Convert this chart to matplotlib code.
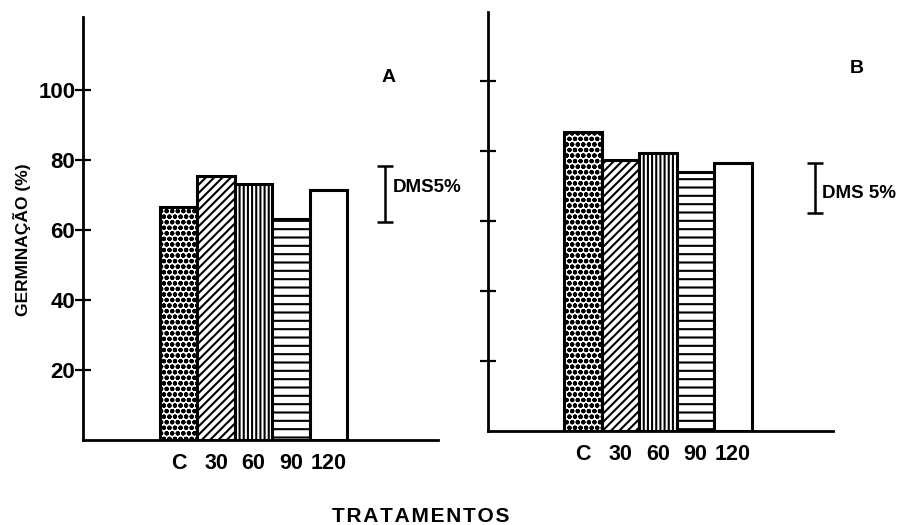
import matplotlib
matplotlib.use("Agg")
import matplotlib.pyplot as plt

# fonte parecida com a do original (Helvetica negrito)
plt.rcParams['font.family'] = ['Liberation Sans', 'DejaVu Sans']
plt.rcParams['font.weight'] = 'bold'
plt.rcParams['hatch.linewidth'] = 1.5

# dados
tratamentos = ["C", "30", "60", "90", "120"]
germ_a = [66.6, 75.4, 73.1, 63.1, 71.4]
germ_b = [85.4, 77.4, 79.4, 74.0, 76.6]
dms_a = (62.3, 78.3)   # limites da barra DMS 5% (painel A)
dms_b = (62.3, 76.6)   # limites da barra DMS 5% (painel B)
y_ticks = [20, 40, 60, 80, 100]
hachuras = ["...ooo", "////", "||||", "--", ""]

fig = plt.figure(figsize=(9.11, 5.25), dpi=100)
fig.patch.set_facecolor("white")

# posições dos eixos em fração da figura
ax_a = fig.add_axes([0.0911, 0.1619, 0.3897, 0.8057])
ax_b = fig.add_axes([0.5357, 0.1790, 0.3787, 0.7980])

paineis = [
    (ax_a, germ_a, dms_a, "A", "DMS5%", (-2.56, 6.93), (0, 120.9), 5.52, 72.3, 5.6),
    (ax_b, germ_b, dms_b, "B", "DMS 5%", (-2.52, 6.66), (0, 119.7), 6.18, 68.0, 7.29),
]

for ax, valores, dms, letra, txt_dms, xlim, ylim, x_dms, y_txt, x_letra in paineis:
    x = range(len(tratamentos))
    ax.bar(x, valores, width=1.0, color="white", edgecolor="black",
           linewidth=2.2, hatch=hachuras, zorder=3)

    ax.set_xlim(*xlim)
    ax.set_ylim(*ylim)
    for lado in ["top", "right"]:
        ax.spines[lado].set_visible(False)
    ax.spines["left"].set_linewidth(2.0)
    ax.spines["bottom"].set_linewidth(2.0)

    ax.set_xticks(list(x))
    ax.set_xticklabels(tratamentos, fontsize=15.5, fontweight="bold")
    ax.tick_params(axis="x", length=0, pad=9)

    ax.set_yticks(y_ticks)
    ax.tick_params(axis="y", direction="inout", length=11, width=1.6, pad=0)
    if letra == "A":
        ax.set_yticklabels([str(v) for v in y_ticks], fontsize=16, fontweight="bold")
    else:
        ax.set_yticklabels([])

    # barra da diferença mínima significativa
    meio = (dms[0] + dms[1]) / 2
    ax.errorbar([x_dms], [meio], yerr=[(dms[1] - dms[0]) / 2], color="black",
                capsize=6, capthick=1.8, elinewidth=1.8, clip_on=False)
    ax.text(x_dms + 0.19, y_txt, txt_dms, fontsize=13.5, fontweight="bold",
            ha="left", va="center", clip_on=False)
    ax.text(x_letra, 103.7, letra, fontsize=14, fontweight="bold",
            ha="center", va="center", clip_on=False)

fig.text(22 / 911, 1 - 240 / 525, "GERMINAÇÃO (%)", rotation=90, fontsize=12.5,
         fontweight="bold", ha="center", va="center")
# letras espaçadas como no original
fig.text(421 / 911, 1 - 516 / 525, "\u200a".join("TRATAMENTOS"), fontsize=15,
         fontweight="bold", ha="center", va="center")

fig.savefig("out.png", dpi=100, facecolor="white")
